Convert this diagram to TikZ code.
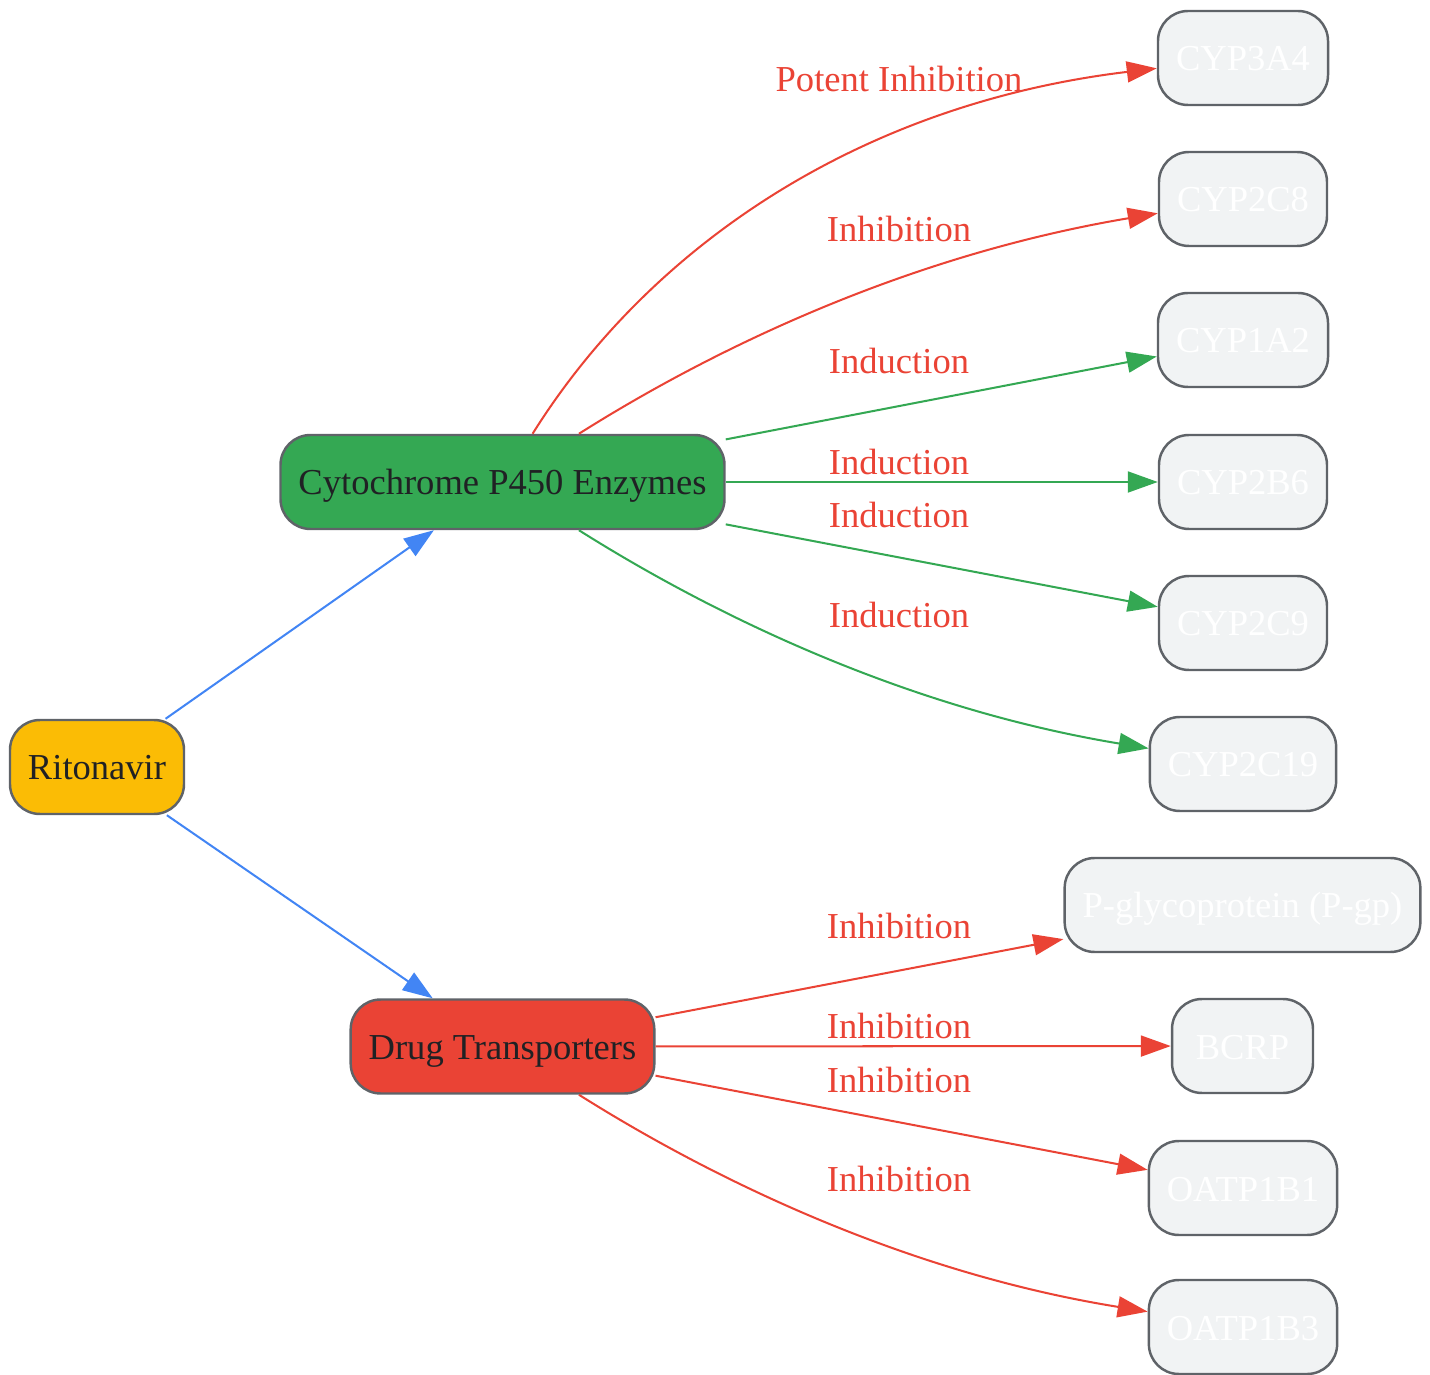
\documentclass[tikz,border=0pt]{standalone}
\usepackage{fontspec}
\setmainfont{Liberation Serif}
\usetikzlibrary{arrows.meta}

\definecolor{gyellow}{HTML}{FBBC05}
\definecolor{ggreen}{HTML}{34A853}
\definecolor{gred}{HTML}{EA4335}
\definecolor{gblue}{HTML}{4285F4}
\definecolor{ggrey}{HTML}{F1F3F4}
\definecolor{gborder}{HTML}{5F6368}
\definecolor{gtext}{HTML}{202124}

\tikzstyle{box} = [rectangle, rounded corners=0.6cm, draw=gborder, line width=1.4pt, minimum height=1.88cm, minimum width=2.82cm, inner xsep=0.36cm, text height=0.64cm, text depth=0.12cm, font=\fontsize{20.8}{24}\selectfont, text=gtext]
\tikzstyle{target} = [box, fill=ggrey, text=white]
\tikzstyle{edge} = [line width=1.15pt, -{Triangle[length=0.6cm, width=0.42cm]}]
\tikzstyle{lbl} = [text=gred, font=\fontsize{20.8}{24}\selectfont]

\begin{document}
\begin{tikzpicture}[x=0.02cm, y=0.02cm]
		\useasboundingbox (0,0) rectangle (1430,1374);
		% Cajas
		\node[box, fill=gyellow] (rito) at (97,607) {Ritonavir};
		\node[box, fill=ggreen] (cyp) at (502.5,892) {Cytochrome P450 Enzymes};
		\node[box, fill=gred] (trans) at (502.5,327.5) {Drug Transporters};
		\node[target] (cyp3a4) at (1243,1316) {CYP3A4};
		\node[target] (cyp2c8) at (1243,1175) {CYP2C8};
		\node[target] (cyp1a2) at (1243,1034) {CYP1A2};
		\node[target] (cyp2b6) at (1243,892) {CYP2B6};
		\node[target] (cyp2c9) at (1243,751) {CYP2C9};
		\node[target] (cyp2c19) at (1243,610) {CYP2C19};
		\node[target] (pgp) at (1242.5,469) {P-glycoprotein (P-gp)};
		\node[target] (bcrp) at (1242.5,328) {BCRP};
		\node[target] (oatp1) at (1243,186) {OATP1B1};
		\node[target] (oatp3) at (1243,47) {OATP1B3};
		% Flechas
		\draw[edge, gblue] (rito) -- (cyp);
		\draw[edge, gblue] (rito) -- (trans);
		\draw[edge, gred] (cyp) .. controls (650,1128) and (860,1270) .. (cyp3a4);
		\draw[edge, gred] (cyp) .. controls (680,1004) and (880,1114) .. (cyp2c8);
		\draw[edge, ggreen] (cyp) -- (cyp1a2);
		\draw[edge, ggreen] (cyp) -- (cyp2b6);
		\draw[edge, ggreen] (cyp) -- (cyp2c9);
		\draw[edge, ggreen] (cyp) .. controls (680,780) and (880,670) .. (cyp2c19);
		\draw[edge, gred] (trans) -- (pgp);
		\draw[edge, gred] (trans) -- (bcrp);
		\draw[edge, gred] (trans) -- (oatp1);
		\draw[edge, gred] (trans) .. controls (680,215.5) and (880,105.5) .. (oatp3);
		% Etiquetas
		\node[lbl] (l3a4) at (899,1295) {Potent Inhibition};
		\node[lbl] (l2c8) at (899,1145) {Inhibition};
		\node[lbl] (l1a2) at (899,1013) {Induction};
		\node[lbl] (l2b6) at (899,912) {Induction};
		\node[lbl] (l2c9) at (899,859) {Induction};
		\node[lbl] (l2c19) at (899,759) {Induction};
		\node[lbl] (lpgp) at (899,448) {Inhibition};
		\node[lbl] (lbcrp) at (899,348) {Inhibition};
		\node[lbl] (loatp1) at (899,294) {Inhibition};
		\node[lbl] (loatp3) at (899,195) {Inhibition};
	\end{tikzpicture}
\end{document}
